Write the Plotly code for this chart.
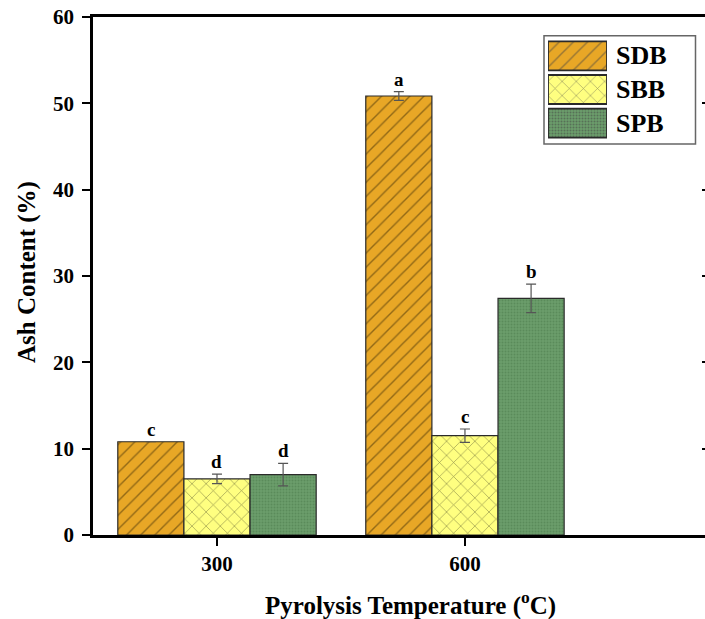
import plotly.graph_objects as go

# Ash content of biochars at two pyrolysis temperatures
temperatures = ["300", "600"]
series_names = ["SDB", "SBB", "SPB"]
ash_sdb = [10.8, 50.85]
ash_sbb = [6.5, 11.5]
ash_spb = [7.0, 27.4]
err_sdb = [0.0, 0.5]
err_sbb = [0.55, 0.78]
err_spb = [1.3, 1.65]
letters_sdb = ["c", "a"]
letters_sbb = ["d", "c"]
letters_spb = ["d", "b"]

values = [ash_sdb, ash_sbb, ash_spb]
errors = [err_sdb, err_sbb, err_spb]
letters = [letters_sdb, letters_sbb, letters_spb]

fills = ["#E8A726", "#FFFF80", "#6B9D6B"]
pattern_shapes = ["/", "x", "."]
pattern_fg = ["#3a2a06", "#2f2f1a", "#4a7a4a"]
pattern_size = [10, 10, 3]
pattern_solid = [0.14, 0.13, 0.35]

FONT = "Liberation Serif"
bargap = 0.2
bar_w = (1 - bargap) / len(series_names)

fig = go.Figure()

for i, name in enumerate(series_names):
    fig.add_trace(go.Bar(
        x=temperatures, y=values[i], name=name, showlegend=False,
        marker=dict(color=fills[i],
                    line=dict(color="#2a2a2a", width=1.2),
                    pattern=dict(shape=pattern_shapes[i], fgcolor=pattern_fg[i],
                                 bgcolor=fills[i], size=pattern_size[i],
                                 solidity=pattern_solid[i], fillmode="overlay")),
        error_y=dict(type="data", array=errors[i], visible=True,
                     color="#555555", thickness=1.2, width=5),
    ))

# significance letters above each bar
annotations = []
for i in range(len(series_names)):
    for j in range(len(temperatures)):
        annotations.append(dict(
            x=j + (i - 1) * bar_w, y=values[i][j] + errors[i][j],
            xref="x", yref="y", text="<b>%s</b>" % letters[i][j],
            showarrow=False, yanchor="bottom", yshift=0,
            font=dict(family=FONT, size=19, color="black")))

# legend drawn with patterned swatches on a small hidden subplot
fig.add_trace(go.Bar(
    x=[1, 1, 1], y=[2, 1, 0], orientation="h", width=0.86,
    xaxis="x2", yaxis="y3", showlegend=False, hoverinfo="skip",
    marker=dict(color=fills,
                line=dict(color="#2a2a2a", width=1.8),
                pattern=dict(shape=pattern_shapes, fgcolor=pattern_fg,
                             bgcolor=fills, size=pattern_size,
                             solidity=pattern_solid, fillmode="overlay")),
))

# same values on the right-hand axis, which only carries inward ticks
fig.add_trace(go.Scatter(x=temperatures, y=ash_sdb, yaxis="y2", mode="none",
                         showlegend=False, hoverinfo="skip"))

L, R, T, B = 93, 0, 17, 84
W, H = 705, 619
pw, ph = W - L - R, H - T - B


def px(xp):
    return (xp - L) / pw


def py(yp):
    return (H - B - yp) / ph


label_y = [55.5, 89.5, 123.5]
for name, yy in zip(series_names, label_y):
    annotations.append(dict(
        x=px(614), y=py(yy), xref="paper", yref="paper", text="<b>%s</b>" % name,
        showarrow=False, xanchor="left", yanchor="middle",
        font=dict(family=FONT, size=26, color="black")))

annotations.append(dict(
    x=px(410), y=py(603), xref="paper", yref="paper",
    text="<b>Pyrolysis Temperature (<sup>o</sup>C)</b>", showarrow=False,
    xanchor="center", yanchor="middle",
    font=dict(family=FONT, size=25, color="black")))
annotations.append(dict(
    x=px(27), y=py(272), xref="paper", yref="paper",
    text="<b>Ash Content (%)</b>", showarrow=False, textangle=-90,
    xanchor="center", yanchor="middle",
    font=dict(family=FONT, size=25, color="black")))

tick_font = dict(family=FONT, size=21, color="black", weight="bold")

fig.update_layout(
    width=W, height=H,
    margin=dict(l=L, r=R, t=T, b=B),
    paper_bgcolor="white", plot_bgcolor="white",
    barmode="group", bargap=bargap, bargroupgap=0,
    font=dict(family=FONT, color="black"),
    xaxis=dict(type="category", range=[-0.5, 1.968], showline=True,
               linecolor="black", linewidth=2.5, mirror=True,
               ticks="outside", ticklen=8, tickwidth=2, tickcolor="black",
               ticklabelstandoff=0, tickfont=tick_font,
               showgrid=False, zeroline=False),
    yaxis=dict(range=[0, 60], dtick=10, showline=True, linecolor="black",
               linewidth=2.5, ticks="outside", ticklen=8, tickwidth=2,
               tickcolor="black", ticklabelstandoff=4, tickfont=tick_font,
               showgrid=False, zeroline=False),
    yaxis2=dict(range=[0, 60], dtick=10, overlaying="y", side="right",
                showline=False, ticks="inside", ticklen=3, tickwidth=1.5,
                tickcolor="black", showticklabels=False, showgrid=False,
                zeroline=False),
    xaxis2=dict(domain=[px(548), px(607)], range=[0, 1], anchor="y3",
                visible=False, fixedrange=True),
    yaxis3=dict(domain=[py(140), py(39)], range=[-0.5, 2.5], anchor="x2",
                visible=False, fixedrange=True),
    shapes=[dict(type="rect", xref="paper", yref="paper",
                 x0=px(544), x1=px(695.5), y0=py(144), y1=py(35.7),
                 line=dict(color="#666666", width=1.5), fillcolor="rgba(0,0,0,0)")],
    annotations=annotations,
)

fig.write_html("out.html")
